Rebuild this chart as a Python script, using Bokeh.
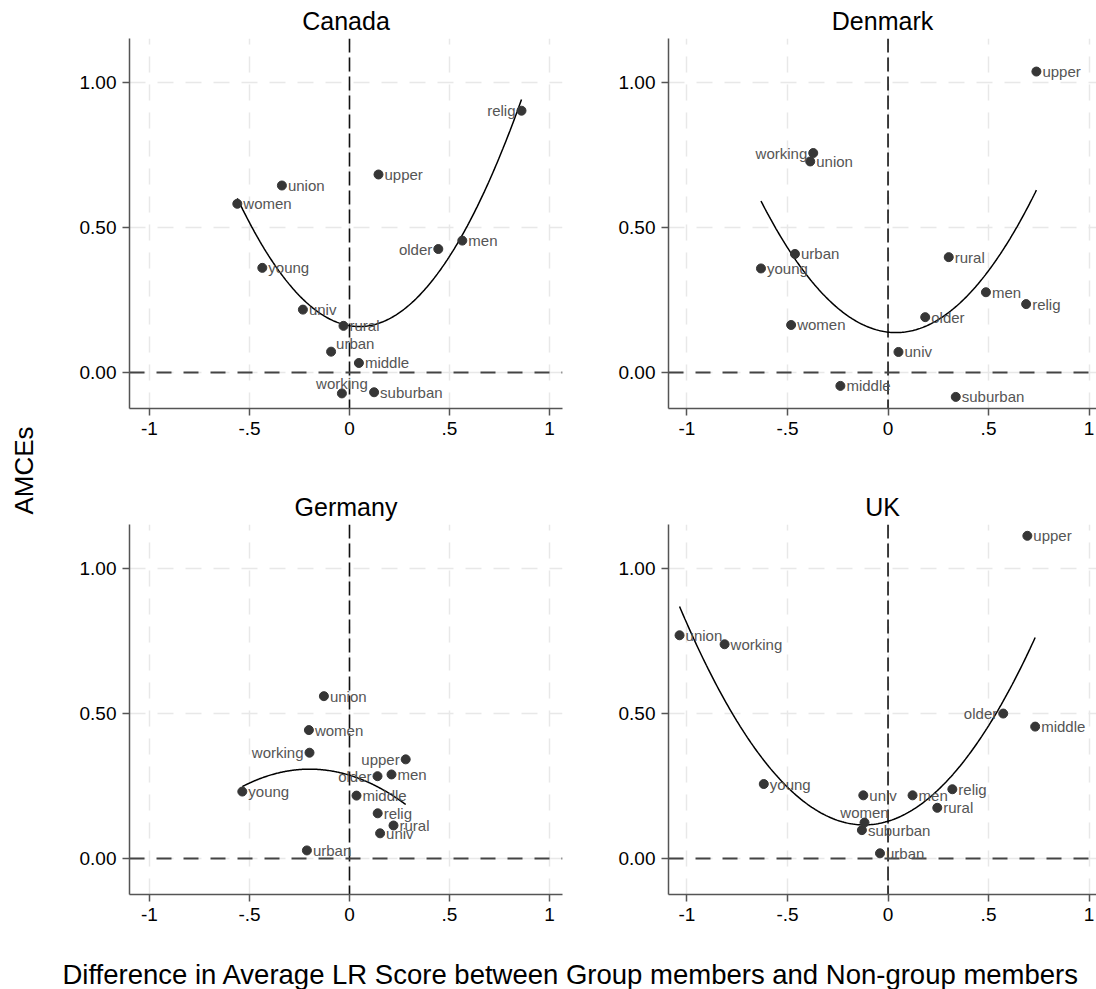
import numpy as np
from bokeh.plotting import figure
from bokeh.layouts import row, column
from bokeh.models import Range1d, FixedTicker, NumeralTickFormatter, Span
from bokeh.embed import file_html
from bokeh.resources import INLINE
from bokeh.core.properties import value

FONT = "Liberation Sans"

# ---------------- data ----------------
canada_groups = ["relig", "upper", "union", "women", "men", "older", "young",
                 "univ", "rural", "urban", "middle", "working", "suburban"]
canada_lr = [0.860, 0.145, -0.338, -0.561, 0.564, 0.444, -0.436,
             -0.233, -0.030, -0.092, 0.047, -0.038, 0.123]
canada_amce = [0.903, 0.683, 0.645, 0.582, 0.455, 0.426, 0.361,
               0.217, 0.161, 0.072, 0.033, -0.072, -0.068]

denmark_groups = ["upper", "working", "union", "urban", "young", "rural", "men",
                  "relig", "older", "women", "univ", "middle", "suburban"]
denmark_lr = [0.738, -0.372, -0.387, -0.463, -0.632, 0.302, 0.487,
              0.687, 0.185, -0.482, 0.052, -0.237, 0.337]
denmark_amce = [1.038, 0.757, 0.728, 0.409, 0.359, 0.398, 0.277,
                0.236, 0.191, 0.164, 0.071, -0.046, -0.084]

germany_groups = ["union", "women", "working", "upper", "men", "older", "young",
                  "middle", "relig", "rural", "univ", "urban"]
germany_lr = [-0.128, -0.203, -0.200, 0.281, 0.210, 0.140, -0.536,
              0.035, 0.141, 0.220, 0.153, -0.213]
germany_amce = [0.560, 0.443, 0.365, 0.342, 0.290, 0.284, 0.231,
                0.217, 0.156, 0.114, 0.087, 0.028]

uk_groups = ["upper", "union", "working", "older", "middle", "young", "relig",
             "univ", "men", "rural", "women", "suburban", "urban"]
uk_lr = [0.693, -1.037, -0.813, 0.573, 0.732, -0.618, 0.320,
         -0.123, 0.122, 0.245, -0.117, -0.130, -0.040]
uk_amce = [1.113, 0.770, 0.739, 0.500, 0.455, 0.257, 0.239,
           0.218, 0.218, 0.175, 0.124, 0.098, 0.018]

x_ticks = [-1, -0.5, 0, 0.5, 1]
x_tick_labels = ["-1", "-.5", "0", ".5", "1"]
y_ticks = [0, 0.5, 1.0]

x_title = "Difference in Average LR Score between Group members and Non-group members"
y_title = "AMCEs"

# label placement (style, not data)
placement = {
    "Canada": {"left": {"relig", "older"}, "above": {"working"}, "upright": {"urban"}},
    "Denmark": {"left": {"working"}},
    "Germany": {"left": {"working", "older", "upper"}},
    "UK": {"left": {"older"}, "above": {"women"}},
}

TOP_H = 486
BOT_H = 459
LEFT_W = 550
RIGHT_W = 496
LABEL_W = 50


def panel(name, groups, xs, ys, width, height, mbl, mbr, mbb, xr):
    p = figure(width=width, height=height, output_backend="svg", toolbar_location=None,
               x_range=Range1d(*xr), y_range=Range1d(-0.124, 1.152),
               min_border_left=mbl, min_border_right=mbr, min_border_top=38,
               min_border_bottom=mbb, background_fill_color="white",
               border_fill_color="white", outline_line_color=None)
    p.title.text = name
    p.title.align = "center"
    p.title.text_font = FONT
    p.title.text_font_size = "25px"
    p.title.text_font_style = "normal"
    p.title.text_color = "black"
    p.title.standoff = 7

    for ax in (p.xaxis[0], p.yaxis[0]):
        ax.axis_line_color = "#555555"
        ax.axis_line_width = 1.5
        ax.major_tick_line_color = "#555555"
        ax.major_tick_line_width = 1.5
        ax.major_tick_out = 7
        ax.major_tick_in = 0
        ax.minor_tick_line_color = None
        ax.major_label_text_font = FONT
        ax.major_label_text_font_size = "19px"
        ax.major_label_text_color = "black"
        ax.major_label_standoff = 6
    p.xaxis.ticker = FixedTicker(ticks=x_ticks)
    p.xaxis.major_label_overrides = {float(t): l for t, l in zip(x_ticks, x_tick_labels)}
    p.yaxis.ticker = FixedTicker(ticks=y_ticks)
    p.yaxis.formatter = NumeralTickFormatter(format="0.00")

    for g in (p.xgrid[0], p.ygrid[0]):
        g.grid_line_color = "#e8e8e8"
        g.grid_line_width = 1.5
        g.grid_line_dash = "16 12"

    p.add_layout(Span(location=0, dimension="height", line_color="#111111",
                      line_width=1.6, line_dash="14 5", level="underlay"))
    p.add_layout(Span(location=0, dimension="width", line_color="#444444",
                      line_width=2, line_dash="15 12", level="underlay"))

    # quadratic fit over the data range (as Stata qfit)
    coef = np.polyfit(xs, ys, 2)
    fx = np.linspace(min(xs), max(xs), 200)
    p.line(fx, np.polyval(coef, fx), line_color="black", line_width=1.5)

    p.scatter(xs, ys, size=9, fill_color="#363636", line_color="#363636")

    pl = placement.get(name, {})
    groups_pos = {"right": ([], [], []), "left": ([], [], []),
                  "above": ([], [], []), "upright": ([], [], [])}
    for g, x, y in zip(groups, xs, ys):
        key = "right"
        for k in ("left", "above", "upright"):
            if g in pl.get(k, set()):
                key = k
        groups_pos[key][0].append(x)
        groups_pos[key][1].append(y)
        groups_pos[key][2].append(g)
    cfg = {"right": (6, 0, "left"), "left": (-6, 0, "right"),
           "above": (0, -10, "center"), "upright": (5, -8, "left")}
    for k, (xo, yo, al) in cfg.items():
        xx, yy, tt = groups_pos[k]
        if not xx:
            continue
        p.text(xx, yy, text=tt, x_offset=xo, y_offset=yo, text_align=al,
               text_baseline="middle", text_font=value(FONT),
               text_font_size="15px", text_color="#555555")
    return p


def drop_title(fig):
    try:
        fig.title = None
    except Exception:
        fig.title.text = ""
        fig.title.text_font_size = "0px"
        fig.title.standoff = 0


left_xr = (-1.1, 1.065)
right_xr = (-1.092, 1.037)

p_can = panel("Canada", canada_groups, canada_lr, canada_amce, LEFT_W, TOP_H, 79, 38, 78, left_xr)
p_den = panel("Denmark", denmark_groups, denmark_lr, denmark_amce, RIGHT_W, TOP_H, 68, 0, 78, right_xr)
p_ger = panel("Germany", germany_groups, germany_lr, germany_amce, LEFT_W, BOT_H, 79, 38, 51, left_xr)
p_uk = panel("UK", uk_groups, uk_lr, uk_amce, RIGHT_W, BOT_H, 68, 0, 51, right_xr)

# left label strip
lab = figure(width=LABEL_W, height=TOP_H + BOT_H, output_backend="svg", toolbar_location=None,
             x_range=Range1d(0, LABEL_W), y_range=Range1d(TOP_H + BOT_H, 0),
             min_border=0, outline_line_color=None)
drop_title(lab)
lab.axis.visible = False
lab.grid.visible = False
lab.text([23], [470], text=[y_title], angle=np.pi / 2, text_align="center",
         text_baseline="middle", text_font=value(FONT), text_font_size="26px",
         text_color="black")

# bottom label strip
BH = 989 - TOP_H - BOT_H
bot = figure(width=1096, height=BH, output_backend="svg", toolbar_location=None,
             x_range=Range1d(0, 1096), y_range=Range1d(BH, 0),
             min_border=0, outline_line_color=None)
drop_title(bot)
bot.axis.visible = False
bot.grid.visible = False
bot.text([62], [29], text=[x_title], text_align="left", text_baseline="alphabetic",
         text_font=value(FONT), text_font_size="27.5px", text_color="black")

root = column(row(lab, column(row(p_can, p_den), row(p_ger, p_uk))), bot)

open("out.html", "w").write(file_html(root, INLINE))
